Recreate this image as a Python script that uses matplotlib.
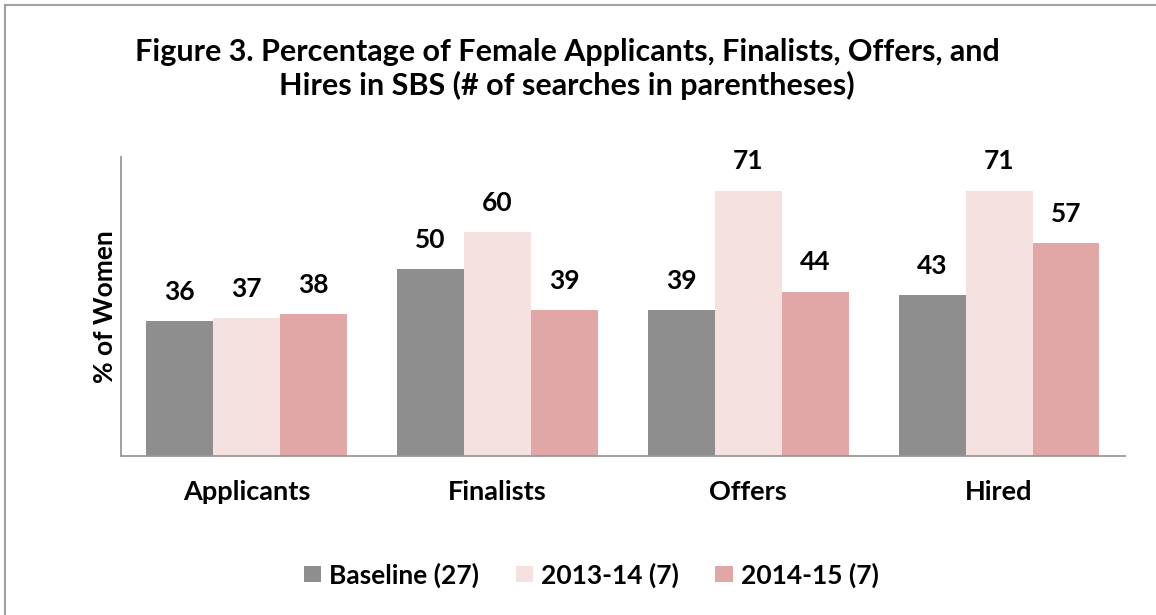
import matplotlib
matplotlib.use("Agg")
import matplotlib.pyplot as plt
import numpy as np
from matplotlib.lines import Line2D

categories = ["Applicants", "Finalists", "Offers", "Hired"]
series_names = ["Baseline (27)", "2013-14 (7)", "2014-15 (7)"]
baseline = [36, 50, 39, 43]
y2013 = [37, 60, 71, 71]
y2014 = [38, 39, 44, 57]
colors = ["#8e8e8e", "#f4e1e0", "#e1a7a6"]

plt.rcParams['font.family'] = ['Lato', 'DejaVu Sans']

fig = plt.figure(figsize=(11.56, 6.15), dpi=100)
ax = fig.add_axes([121/1156, 1-456/615, (1124.5-121)/1156, (456-157)/615])

x = np.arange(len(categories))
w = 0.8/3
for i, (vals, name, c) in enumerate(zip([baseline, y2013, y2014], series_names, colors)):
    bars = ax.bar(x + (i-1)*w, vals, width=w, color=c, label=name, edgecolor='none')
    for b, v in zip(bars, vals):
        ax.annotate(str(v), (b.get_x()+b.get_width()/2, v), xytext=(0, 21),
                    textcoords='offset points', ha='center', va='center',
                    fontsize=19, fontweight='bold')

ax.set_xlim(-0.5, len(categories)-0.5)
ax.set_ylim(0, 80)
ax.set_yticks([])
ax.set_xticks(x)
ax.set_xticklabels(categories, fontsize=19.5, fontweight='bold')
ax.tick_params(axis='x', length=0, pad=17)
for s in ['top', 'right']:
    ax.spines[s].set_visible(False)
for s in ['left', 'bottom']:
    ax.spines[s].set_color('#999999')
    ax.spines[s].set_linewidth(1.3)
ax.set_ylabel("% of Women", fontsize=19, fontweight='bold', labelpad=3)

fig.text(567/1156, 1-69/615, "Figure 3. Percentage of Female Applicants, Finalists, Offers, and\nHires in SBS (# of searches in parentheses)",
         ha='center', va='center', fontsize=22, fontweight='bold', linespacing=1.2)

leg = fig.legend(loc='center', bbox_to_anchor=(591/1156, 1-575/615), ncol=3, frameon=False,
                 prop={'weight': 'bold', 'size': 19}, handlelength=0.65, handleheight=0.6,
                 handletextpad=0.3, columnspacing=1.4)

# outer frame (top and left visible)
fig.add_artist(Line2D([5/1156, 1], [1-5/615, 1-5/615], color='#a0a0a0', lw=1.5, transform=fig.transFigure))
fig.add_artist(Line2D([5/1156, 5/1156], [0, 1-5/615], color='#a0a0a0', lw=1.5, transform=fig.transFigure))

fig.savefig("out.png", dpi=100)
